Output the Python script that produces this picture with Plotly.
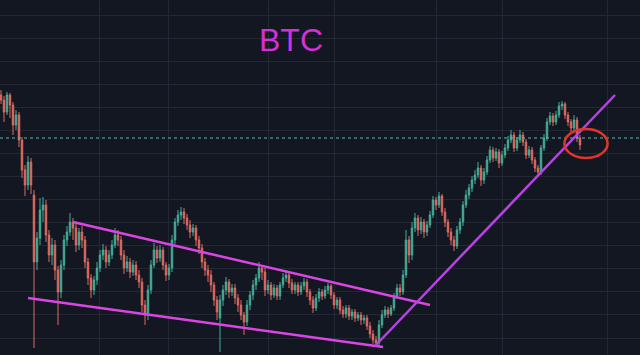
import plotly.graph_objects as go

# ---- price data (USD) ----
open_ = [12200,12000,11520,12200,11800,11000,11400,10400,9200,8600,
         9520,8200,5520,6480,7600,7800,6600,5800,6200,5200,
         4320,5400,6400,6720,7120,6880,6200,6720,6400,5520,
         4880,4400,4800,5280,5800,6000,5520,5800,6200,6600,
         6400,5800,5280,5520,5120,5400,5000,4720,3800,3400,
         4400,5400,6000,5680,6000,5400,5000,5280,6400,7120,
         7400,7520,7280,7000,6720,6880,6400,6080,5520,5200,
         5000,4600,4000,3280,4000,4400,4720,4320,4480,4080,
         3800,3400,3120,3800,4200,4600,4880,5280,5120,4400,
         4600,4200,4480,4160,4600,4880,5000,4680,4400,4600,
         4320,4560,4720,4320,4000,3680,4080,4320,4160,4400,
         4560,4200,3800,4000,3600,3440,3680,3360,3520,3280,
         3400,3200,3280,2960,2640,2400,2280,3000,3400,3600,
         3440,3680,4160,4480,4320,5000,6400,5800,6880,7280,
         6800,7120,6720,7000,7400,8000,7800,8160,7520,7120,
         6720,6400,6160,6800,7120,7800,8200,8480,8800,9000,
         9280,8800,9120,9600,10000,9680,9920,9480,9800,10080,
         10400,10600,10080,10400,10600,10320,9800,10000,9600,9280,
         9120,10080,10480,11120,11360,11120,11400,11760,11840,11400,
         11120,10880,11200,10480]
high = [12400,12160,12320,12280,11920,11600,11520,10520,9400,9760,
        9680,8400,6720,8080,8120,8000,6800,6480,6400,5360,
        5600,6600,6960,7480,7280,7040,6880,6960,6560,5680,
        5040,4960,5520,6000,6240,6160,6000,6400,6880,6800,
        6560,6000,5760,5680,5600,5560,5200,4880,4000,4600,
        5600,6280,6160,6200,6120,5520,5440,6600,7280,7600,
        7720,7680,7440,7200,7040,7000,6560,6240,5680,5400,
        5200,4720,4160,4200,4600,4920,4840,4640,4640,4240,
        4000,3520,4000,4360,4800,5040,5520,5400,5280,4800,
        4720,4640,4600,4720,5080,5200,5120,4840,4720,4720,
        4720,4880,4840,4440,4160,4240,4480,4440,4560,4680,
        4640,4320,4120,4120,3760,3800,3800,3640,3640,3520,
        3520,3400,3400,3120,2800,2560,3200,3600,3760,3720,
        3800,4280,4640,4640,5200,6800,6560,7120,7480,7400,
        7320,7240,7160,7560,8160,8120,8320,8240,7680,7240,
        6880,6560,6960,7280,7960,8400,8640,8960,9200,9520,
        9400,9280,9760,10160,10120,10080,10040,9960,10240,10560,
        10800,10720,10520,10800,10720,10440,10160,10120,9720,9400,
        10200,10640,11280,11520,11480,11560,11920,11960,11920,11520,
        11240,11400,11320,10600]
low = [11840,11120,11400,11280,10600,10800,10120,8880,8160,8400,
       8240,2080,5200,6200,7120,6320,5520,5400,4800,3000,
       4080,5200,6160,6560,6400,5920,6000,6080,5280,4600,
       4080,4200,4600,5120,5600,5280,5360,5640,6080,6160,
       5600,5040,5120,4880,4960,4800,4480,3520,3000,3200,
       4240,5280,5480,5520,5200,4760,4800,5120,6240,6960,
       7200,7040,6800,6480,6560,6160,5840,5280,4960,4720,
       4320,3760,3200,1920,3760,4200,4080,4160,3840,3520,
       3200,2600,2960,3600,4000,4400,4720,4800,4160,4240,
       4000,4080,4000,4000,4480,4720,4480,4240,4240,4160,
       4200,4400,4120,3800,3480,3560,3920,4000,4040,4240,
       4040,3640,3640,3440,3280,3280,3200,3200,3120,3160,
       3000,3040,2800,2480,2240,2120,2160,2880,3280,3280,
       3360,3560,4040,4160,4200,4880,5480,5600,6720,6560,
       6640,6480,6560,6880,7280,7600,7680,7360,6920,6520,
       6200,5960,6040,6640,6960,7680,8040,8320,8640,8880,
       8560,8640,9000,9480,9520,9560,9280,9360,9680,9960,
       10280,9920,9960,10280,10160,9640,9680,9440,9120,8960,
       9000,9960,10360,11000,10960,11000,11280,11600,11240,10960,
       10720,10760,10320,10000]
close = [12000,11520,12200,11800,11000,11400,10400,9200,8600,9520,
         8600,5520,6480,7600,7800,6600,5800,6200,5200,4320,
         5400,6400,6720,7120,6880,6200,6720,6400,5520,4880,
         4400,4800,5280,5800,6000,5520,5800,6200,6600,6400,
         5800,5280,5520,5120,5400,5000,4720,3800,3400,4400,
         5400,6000,5680,6000,5400,5000,5280,6400,7120,7400,
         7520,7280,7000,6720,6880,6400,6080,5520,5200,5000,
         4600,4000,3520,4000,4400,4720,4320,4480,4080,3800,
         3400,3120,3800,4200,4600,4880,5280,5120,4400,4600,
         4200,4480,4160,4600,4880,5000,4680,4400,4600,4320,
         4560,4720,4320,4000,3680,4080,4320,4160,4400,4560,
         4200,3800,4000,3600,3440,3680,3360,3520,3280,3400,
         3200,3280,2960,2640,2400,2280,3000,3400,3600,3440,
         3680,4160,4480,4320,5000,6400,5800,6880,7280,6800,
         7120,6720,7000,7400,8000,7800,8160,7520,7120,6720,
         6400,6160,6800,7120,7800,8200,8480,8800,9000,9280,
         8800,9120,9600,10000,9680,9920,9480,9800,10080,10400,
         10600,10080,10400,10600,10320,9800,10000,9600,9280,9120,
         10080,10480,11120,11360,11120,11400,11760,11840,11400,11120,
         10880,11200,10480,10200]
day = list(range(len(close)))

# ---- drawn annotations (day index, price) ----
channel_top_x = [24, 143]
channel_top_y = [7120, 3800]
channel_bot_x = [9, 127.33]
channel_bot_y = [4080, 2120]
support_x = [124.67, 204.67]
support_y = [2160, 12200]
level_price = 10480
circle_x = [187.8, 202.2]
circle_y = [9680, 10840]
grid_days = [32.67, 55.67, 89, 111.33, 145.33, 167.33, 202]
x_range = [-0.333, 213]
y_range = [1800, 16000]

BG = "#131722"
GRID = "#232734"

fig = go.Figure()
fig.add_trace(go.Candlestick(
    x=day, open=open_, high=high, low=low, close=close,
    increasing=dict(line=dict(color="#45ad97", width=1), fillcolor="#45ad97"),
    decreasing=dict(line=dict(color="#e06b61", width=1), fillcolor="#e06b61"),
    whiskerwidth=0, showlegend=False, hoverinfo="skip"))

fig.add_trace(go.Scatter(x=x_range, y=[level_price, level_price], mode="lines",
                         line=dict(color="#5cbcb2", width=1, dash="dot"),
                         showlegend=False, hoverinfo="skip"))
fig.add_trace(go.Scatter(x=channel_top_x, y=channel_top_y, mode="lines",
                         line=dict(color="#db45e4", width=2.5), showlegend=False))
fig.add_trace(go.Scatter(x=channel_bot_x, y=channel_bot_y, mode="lines",
                         line=dict(color="#db45e4", width=2.5), showlegend=False))
fig.add_trace(go.Scatter(x=support_x, y=support_y, mode="lines",
                         line=dict(color="#b743e4", width=2.5), showlegend=False))

fig.add_shape(type="circle", xref="x", yref="y",
              x0=circle_x[0], x1=circle_x[1], y0=circle_y[0], y1=circle_y[1],
              line=dict(color="#e0362c", width=2.5))

fig.add_annotation(text="BTC", xref="paper", yref="paper", x=0.455, y=0.887,
                   xanchor="center", yanchor="middle", showarrow=False,
                   font=dict(family="Liberation Sans, Arial", size=32, color="#d52fd9"))

fig.update_layout(
    width=640, height=355, margin=dict(l=0, r=0, t=0, b=0),
    paper_bgcolor=BG, plot_bgcolor=BG,
    xaxis=dict(range=x_range, rangeslider=dict(visible=False), tickvals=grid_days,
               showticklabels=False, showgrid=True, gridcolor=GRID, gridwidth=1,
               zeroline=False, showline=False, ticks=""),
    yaxis=dict(range=y_range, tick0=15400, dtick=923, showticklabels=False,
               showgrid=True, gridcolor=GRID, gridwidth=1, zeroline=False,
               showline=False, ticks=""),
)
fig.write_html("out.html")
